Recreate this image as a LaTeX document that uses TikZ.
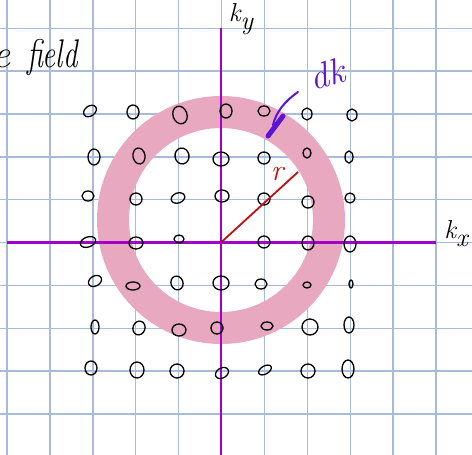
\documentclass[tikz,border=0pt]{standalone}
\usepackage{fontspec}
\begin{document}
\begin{tikzpicture}[x=1pt,y=-1pt,
  gridline/.style={draw=gridc, line width=1.4pt},
  axisline/.style={draw=axisc, line width=2.6pt},
  dotc/.style={draw=black, line width=1.3pt},
  hand/.style={inner sep=0pt, font=\itshape}]
\definecolor{gridc}{RGB}{168,187,216}
\definecolor{axisc}{RGB}{160,0,200}
\definecolor{ringc}{RGB}{232,168,192}
\definecolor{redc}{RGB}{190,16,20}
\definecolor{bluec}{RGB}{92,20,212}
\useasboundingbox (0,0) rectangle (472,455);
\clip (0,0) rectangle (472,455);
\fill[white] (0,0) rectangle (472,455);
% grid
\foreach \i in {0,...,11} {
  \draw[gridline] ({7+42.9*\i},-2) -- ({7+42.9*\i},460);
}
\foreach \j in {-1,...,10} {
  \draw[gridline] (-2,{28.3+42.85*\j}) -- (480,{28.3+42.85*\j});
}
% ring
\draw[draw=ringc, line width=32pt] (221,220) circle (108);
% axes
\coordinate (O) at (221,242.5);
\coordinate (ytop) at (221,28);
\coordinate (ybot) at (221,460);
\coordinate (xl) at (7,242.5);
\coordinate (xr) at (436,242.5);
\draw[axisline] (ybot) -- (ytop);
\draw[axisline] (xl) -- (xr);
% dots
\foreach \x/\y/\a/\b/\r in {
 90/111/7/5/35, 133/112/6/7/0, 180/115/7/9/20, 226/111/6/7/0, 264/111/6/5/0, 307/114/5/6/0, 352/115/5/6/0,
 94/157/6/8/0, 139/156/6/8/10, 182/156/7/8/10, 221/159/8/7/0, 264/158/6/6/0, 307/153/4/5/0, 349/157/4/6/0,
 88/196/6/5/0, 136/199/6/6/0, 178/198/7/5/20, 222/196/7/6/0, 264/199/6/6/0, 308/202/6/6/0, 350/198/5/5/0,
 88/242/8/5/20, 136/243/7/6/0, 179/239/5/4/0, 264/242/6/6/0, 308/243/6/7/0, 350/244/6/8/0,
 95/281/7/5/30, 133/286/7/4/0, 177/283/6/7/20, 221/283/8/7/0, 261/284/6/5/0, 307/285/4/3/0, 351/284/2/4/0,
 95/327/4/7/0, 139/328/6/7/-20, 179/330/7/6/0, 217/328/6/6/0, 267/326/6/4/0, 310/327/8/8/0, 349/325/5/8/0,
 91/368/6/7/0, 137/370/7/8/0, 177/371/7/7/0, 222/373/7/5/30, 265/370/7/4/30, 308/371/7/7/0, 348/369/6/9/0} {
  \draw[dotc, rotate around={\r:(\x,\y)}] (\x,\y) ellipse [x radius=\a, y radius=\b];
}
% radius
\coordinate (rend) at (298,172);
\draw[draw=redc, line width=1.8pt] (O) -- (rend);
\node[hand, text=redc, font=\fontsize{30}{32}\selectfont\itshape] (rlab) at (277,174) {r};
% dk
\coordinate (dk1) at (298,92);
\coordinate (dk2) at (273,125);
\coordinate (dk3) at (283,116);
\coordinate (dk4) at (268,136);
\draw[draw=bluec, line width=2pt, line cap=round] (dk1) .. controls (285,101) and (276,112) .. (dk2);
\draw[draw=bluec, line width=5pt, line cap=round] (dk3) -- (dk4);
\node[hand, text=bluec, font=\fontsize{36}{38}\selectfont\itshape, rotate=15] (dklab) at (327,74) {dk};
% axis labels
\node[hand, font=\fontsize{26}{28}\selectfont\itshape] (kylab) at (241,19) {k\raisebox{-0.3em}{y}};
\node[hand, font=\fontsize{26}{28}\selectfont\itshape] (kxlab) at (456,234) {k\raisebox{-0.3em}{x}};
% title fragment
\node[hand, anchor=base east, font=\fontsize{40}{42}\selectfont\itshape] (tite) at (11,67) {e};
\node[hand, anchor=base west, font=\fontsize{40}{42}\selectfont\itshape, xscale=0.72, transform shape] (title) at (27,67) {field};
\end{tikzpicture}
\end{document}
